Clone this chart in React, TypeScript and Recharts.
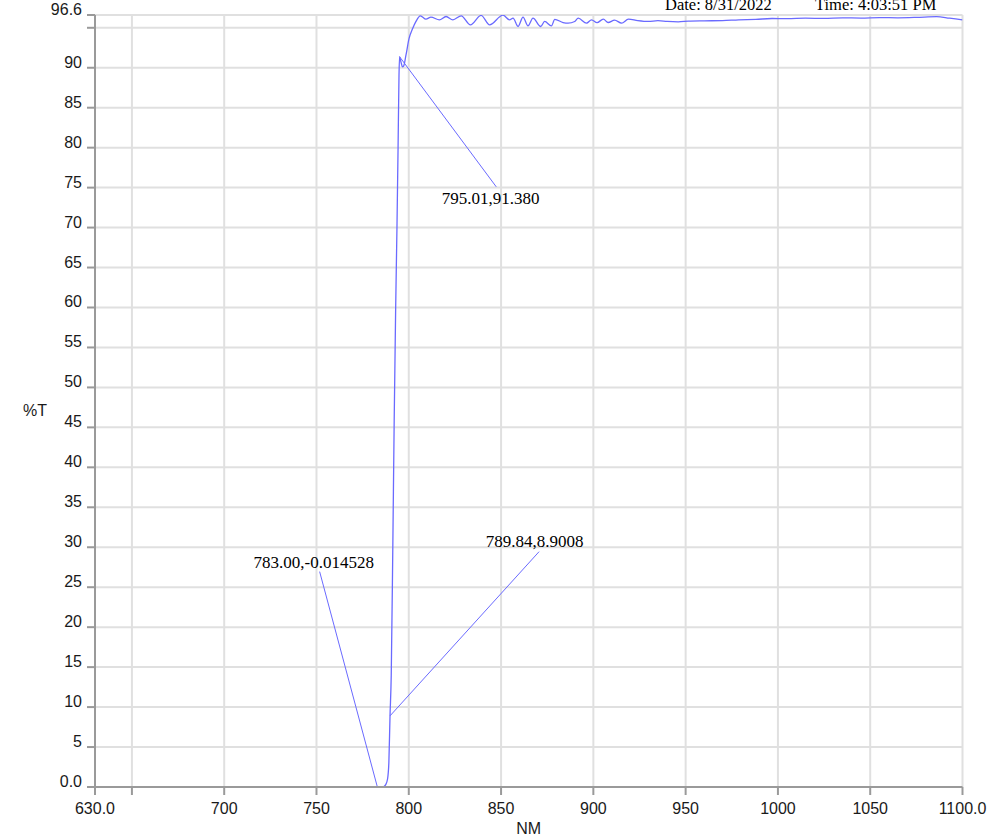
import {
  LineChart,
  Line,
  XAxis,
  YAxis,
  CartesianGrid,
  ReferenceLine,
  ReferenceDot,
} from 'recharts'

// wavelength (nm) and transmission (%T)
const wavelengths = [
  630, 650, 700, 750, 770, 780, 783, 786, 787.5, 788.5, 789.2, 789.84, 790.5, 791.3, 792.1, 792.9,
  793.6, 794.2, 794.7, 795.01, 795.8, 796.6, 797.2, 798.5, 800.1, 802.1, 803.9, 806.3, 809.3, 812,
  816.6, 820.2, 823.9, 828.4, 833.4, 839.2, 843.8, 851, 854.6, 856.5, 859.2, 861.9, 864.6, 867.3,
  871.5, 873.6, 877.3, 879.1, 883.6, 886.3, 889.9, 891.8, 896.3, 899, 902, 905.4, 908, 911.5, 915.3,
  919, 924, 929.8, 935, 940, 946, 951.5, 960, 970, 978.8, 988, 996.8, 1005, 1015, 1025, 1035, 1045,
  1055, 1065, 1075, 1086, 1093, 1100,
]

const transmission = [
  0, 0, 0, 0, 0, 0, -0.014528, 0, 0.3, 1.0, 3.0, 8.9008, 14, 29, 45.9, 60,
  70, 80, 89, 91.38, 90.7, 90.1, 90.2, 91.6, 93.6, 94.9, 95.8, 96.5, 96.08, 96.33,
  96.0, 96.41, 96.0, 96.5, 95.37, 96.55, 95.37, 96.58, 96.0, 96.2, 95.16, 96.33, 95.24, 96.2,
  95.16, 95.79, 95.24, 96.05, 95.66, 95.58, 95.79, 96.2, 95.58, 96.0, 95.65, 96.08, 95.66, 95.95, 95.58,
  96.08, 95.9, 95.79, 95.9, 95.8, 95.75, 95.83, 95.87, 95.9, 96.0, 96.05, 96.16, 96.15, 96.2, 96.18, 96.25, 96.22,
  96.28, 96.25, 96.3, 96.4, 96.2, 96.0,
]

const xTicks = [630, 650, 700, 750, 800, 850, 900, 950, 1000, 1050, 1100]
const yTicks = [0, 5, 10, 15, 20, 25, 30, 35, 40, 45, 50, 55, 60, 65, 70, 75, 80, 85, 90, 95, 96.6]

// marked points: the point, where the leader ends, where its text sits
const markerPoints = [
  { nm: 795.01, t: 91.38, text: '795.01,91.380' },
  { nm: 789.84, t: 8.9008, text: '789.84,8.9008' },
  { nm: 783.0, t: -0.014528, text: '783.00,-0.014528' },
]
const leaderEnds = [
  { nm: 847.4, t: 75.1 },
  { nm: 870.6, t: 29.45 },
  { nm: 751.7, t: 26.95 },
]
const labelSpots = [
  { nm: 844.4, t: 72.97 },
  { nm: 868.2, t: 30.0 },
  { nm: 748.5, t: 27.37 },
]

const data = wavelengths.map((nm, i) => ({ nm, t: transmission[i] }))

const blue = '#6a6aff'
const axisGray = '#9a9a9a'
const sans = '"Liberation Sans", Arial, sans-serif'
const serif = '"Liberation Serif", "Times New Roman", serif'

const fmtX = (v: number) => (v === 650 ? '' : v === 630 || v === 1100 ? v.toFixed(1) : String(v))
const fmtY = (v: number) => (v === 95 ? '' : v === 0 ? '0.0' : String(v))

function XTick({ x, y, payload }: any) {
  return (
    <text x={x} y={y + 17} textAnchor="middle" fontSize={16} fontFamily={sans} fill="#1a1a1a">
      {fmtX(payload.value)}
    </text>
  )
}

function YTick({ x, y, payload }: any) {
  return (
    <text x={x} y={y} textAnchor="end" fontSize={16} fontFamily={sans} fill="#1a1a1a">
      {fmtY(payload.value)}
    </text>
  )
}

function MarkerText(text: string) {
  return (props: any) => {
    const vb = props.viewBox || {}
    return (
      <text x={vb.x} y={vb.y} textAnchor="middle" fontSize={17} fontFamily={serif} fill="#000">
        {text}
      </text>
    )
  }
}

export default function App() {
  return (
    <div style={{ position: 'absolute', left: 0, top: 0, width: 1003, height: 839, background: '#fff', overflow: 'hidden' }}>
      <LineChart
        width={1003}
        height={839}
        data={data}
        margin={{ top: 15, right: 40.5, bottom: 0, left: 0 }}
      >
        <CartesianGrid stroke="#e0e0e0" strokeWidth={2} />
        <XAxis
          dataKey="nm"
          type="number"
          domain={[630, 1100]}
          allowDataOverflow
          ticks={xTicks}
          interval={0}
          height={52}
          tick={<XTick />}
          tickSize={8}
          stroke={axisGray}
          strokeWidth={2}
          label={{ value: 'NM', position: 'insideBottom', offset: 5, fontSize: 16, fontFamily: sans, fill: '#1a1a1a' }}
        />
        <YAxis
          type="number"
          domain={[0, 96.6]}
          allowDataOverflow
          ticks={yTicks}
          interval={0}
          width={95}
          tick={<YTick />}
          tickSize={8}
          tickMargin={5}
          stroke={axisGray}
          strokeWidth={2}
          label={{ value: '%T', position: 'insideLeft', offset: 23, dy: 9, fontSize: 16, fontFamily: sans, fill: '#1a1a1a' }}
        />
        <Line
          type="monotone"
          dataKey="t"
          stroke={blue}
          strokeWidth={1.3}
          dot={false}
          isAnimationActive={false}
        />
        {markerPoints.map((m, i) => (
          <ReferenceLine
            key={'l' + i}
            segment={[
              { x: m.nm, y: m.t },
              { x: leaderEnds[i].nm, y: leaderEnds[i].t },
            ]}
            stroke={blue}
            strokeWidth={1}
            ifOverflow="visible"
          />
        ))}
        {markerPoints.map((m, i) => (
          <ReferenceDot
            key={'d' + i}
            x={labelSpots[i].nm}
            y={labelSpots[i].t}
            r={0}
            fill="none"
            stroke="none"
            ifOverflow="visible"
            label={MarkerText(m.text)}
          />
        ))}
      </LineChart>
      <div style={{ position: 'absolute', left: 665, top: -3, fontFamily: serif, fontSize: 16.5, lineHeight: '16px', whiteSpace: 'nowrap' }}>
        Date: 8/31/2022
      </div>
      <div style={{ position: 'absolute', left: 815, top: -3, fontFamily: serif, fontSize: 16.5, lineHeight: '16px', whiteSpace: 'nowrap' }}>
        Time: 4:03:51 PM
      </div>
    </div>
  )
}
